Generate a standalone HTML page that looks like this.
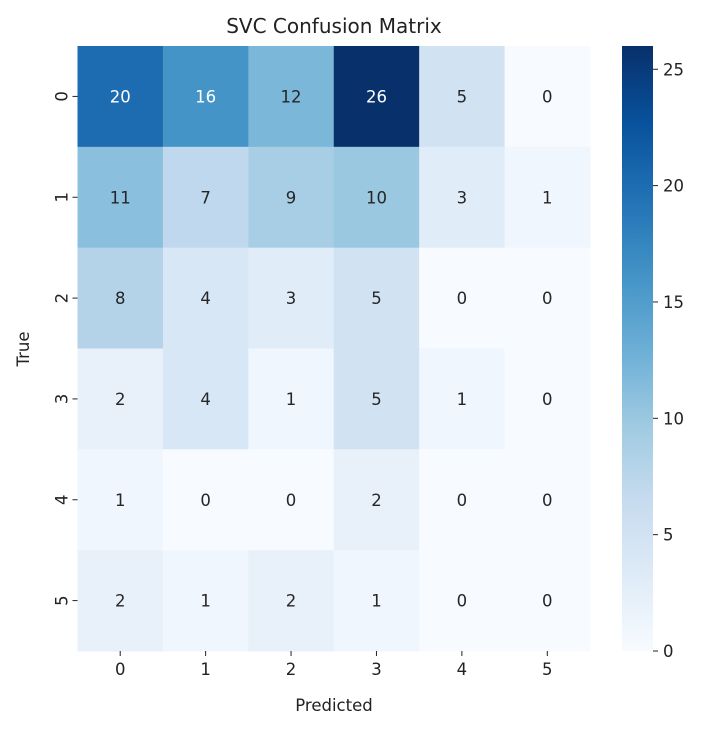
<!DOCTYPE html>
<html><head><meta charset="utf-8"><style>
body{margin:0;background:#fff;}
svg{display:block;font-family:"DejaVu Sans","Liberation Sans",sans-serif;}
</style></head><body>
<svg id="chart" width="708" height="731" viewBox="0 0 708 731">
<text x="334" y="33" style="font-size:20px" text-anchor="middle" fill="#222">SVC Confusion Matrix</text>
<g id="cells"></g>
<g id="axes"></g>
<defs><linearGradient id="cbg" x1="0" y1="1" x2="0" y2="0"></linearGradient></defs>
<rect x="622" y="46" width="31" height="605" fill="url(#cbg)"/>
<g id="cbaxis"></g>
<text x="334" y="711" style="font-size:16.5px" text-anchor="middle" fill="#222">Predicted</text>
<text transform="translate(29,349) rotate(-90)" style="font-size:16.5px" text-anchor="middle" fill="#222">True</text>
</svg>
<script>
const xLabels=["0","1","2","3","4","5"];
const yLabels=["0","1","2","3","4","5"];
const row0=[20,16,12,26,5,0];
const row1=[11,7,9,10,3,1];
const row2=[8,4,3,5,0,0];
const row3=[2,4,1,5,1,0];
const row4=[1,0,0,2,0,0];
const row5=[2,1,2,1,0,0];
const matrix=[row0,row1,row2,row3,row4,row5];
const cbTicks=[0,5,10,15,20,25];
const vmin=0, vmax=26;

const NS="http://www.w3.org/2000/svg";
const L=77.5,R=590,T=46,B=651;
const FS='16.5px';
const cw=(R-L)/xLabels.length, ch=(B-T)/yLabels.length;
const stops=["#f7fbff","#deebf7","#c6dbef","#9ecae1","#6baed6","#4292c6","#2171b5","#08519c","#08306b"];
function hex(h){return [1,3,5].map(i=>parseInt(h.substr(i,2),16));}
function cmap(t){t=Math.max(0,Math.min(1,t));const p=t*(stops.length-1);const i=Math.min(Math.floor(p),stops.length-2);const f=p-i;const a=hex(stops[i]),b=hex(stops[i+1]);return a.map((v,k)=>Math.round(v+(b[k]-v)*f));}
function lum(c){const l=c.map(v=>{v/=255;return v<=0.03928?v/12.92:Math.pow((v+0.055)/1.055,2.4);});return 0.2126*l[0]+0.7152*l[1]+0.0722*l[2];}
function el(tag,attrs,parent){const e=document.createElementNS(NS,tag);for(const k in attrs)e.setAttribute(k,attrs[k]);parent.appendChild(e);return e;}
const cells=document.getElementById('cells');
matrix.forEach((row,r)=>row.forEach((v,c)=>{
 const col=cmap((v-vmin)/(vmax-vmin));
 const rect=el('rect',{x:L+c*cw,y:T+r*ch,width:cw+0.5,height:ch+0.5,fill:`rgb(${col})`},cells);
 
 
 const t=el('text',{x:L+(c+0.5)*cw,y:T+(r+0.5)*ch+6,style:'font-size:'+FS,'text-anchor':'middle',fill:lum(col)>0.408?'#262626':'#ffffff'},cells);
 t.textContent=v;
 
 
}));
const axes=document.getElementById('axes');
xLabels.forEach((l,i)=>{const x=L+(i+0.5)*cw;
 el('line',{x1:x,x2:x,y1:B,y2:B+5,stroke:'#222','stroke-width':1},axes);
 const t=el('text',{x:x,y:B+24,style:'font-size:'+FS,'text-anchor':'middle',fill:'#222'},axes);t.textContent=l;
 
 });
yLabels.forEach((l,i)=>{const y=T+(i+0.5)*ch;
 el('line',{x1:L-5,x2:L,y1:y,y2:y,stroke:'#222','stroke-width':1},axes);
 const t=el('text',{transform:`translate(${L-10},${y}) rotate(-90)`,style:'font-size:'+FS,'text-anchor':'middle',fill:'#222'},axes);t.textContent=l;
 
 });
const g=document.getElementById('cbg');
stops.forEach((s,i)=>el('stop',{offset:i/(stops.length-1),'stop-color':s},g));
const cb=document.getElementById('cbaxis');
cbTicks.forEach(v=>{const y=B-(v-vmin)/(vmax-vmin)*(B-T);
 el('line',{x1:653,x2:658,y1:y,y2:y,stroke:'#222','stroke-width':1},cb);
 const t=el('text',{x:663,y:y+6,style:'font-size:'+FS,fill:'#222'},cb);t.textContent=v;
 
 });
</script>
</body></html>
